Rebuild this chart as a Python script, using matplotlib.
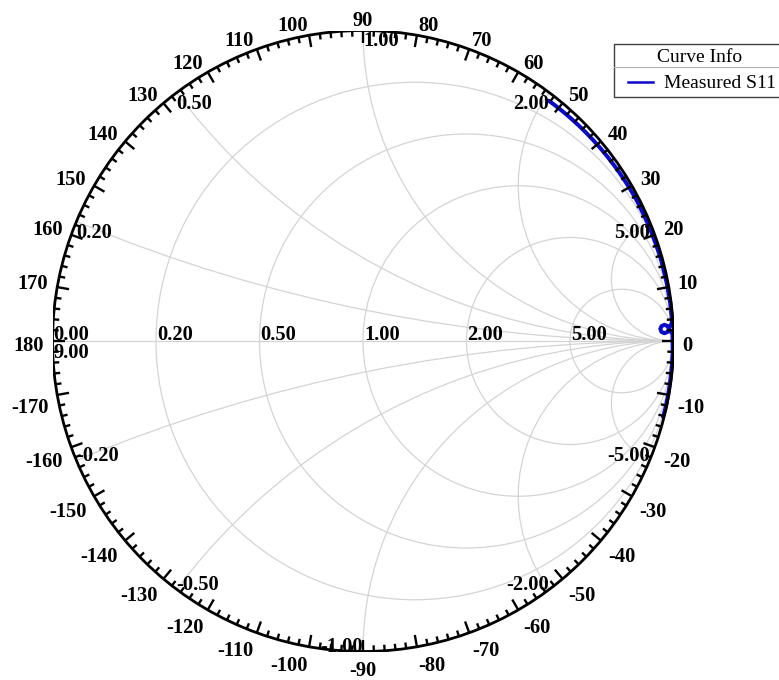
import numpy as np
import matplotlib
matplotlib.use("Agg")
import matplotlib.pyplot as plt
from matplotlib.patches import Circle, Rectangle
from matplotlib.collections import LineCollection

# ---------------- data ----------------
resistances = [0.2, 0.5, 1.0, 2.0, 5.0]
resistance_labels = ["0.20", "0.50", "1.00", "2.00", "5.00"]
reactances = [0.2, 0.5, 1.0, 2.0, 5.0]
reactance_labels_pos = ["0.20", "0.50", "1.00", "2.00", "5.00"]
reactance_labels_neg = ["-0.20", "-0.50", "-1.00", "-2.00", "-5.00"]
angle_labels = list(range(-170, 190, 10))

# Measured S11 (reflection coefficient magnitude, phase in degrees)
s11_phase = [52.3, 51, 49, 47, 45, 43, 41, 39, 37, 35, 33, 31, 29, 27, 25,
             23, 21, 19, 17, 15, 13, 11, 9, 7, 5.5, 4.3, 3.4,
             2.325, 2.803, 3.071, 2.858, 2.309, 1.728, 1.481, 1.694, 2.151,
             1.3, 0, -2, -4, -6, -8, -10, -12, -14.2]
s11_mag = [0.978, 0.979, 0.980, 0.981, 0.982, 0.983, 0.984, 0.985, 0.986,
           0.987, 0.988, 0.989, 0.990, 0.991, 0.991, 0.992, 0.993, 0.993,
           0.994, 0.995, 0.995, 0.996, 0.996, 0.997, 0.997, 0.997, 0.997,
           0.9858, 0.9817, 0.9724, 0.9627, 0.9583, 0.9619, 0.9713, 0.9809, 0.9857,
           0.997, 0.997, 0.998, 0.998, 0.998, 0.998, 0.998, 0.998, 0.997]

# ---------------- layout ----------------
W, H, DPI = 779, 680, 100
CX, CY, R = 363, 341, 310.5        # chart centre / radius in pixels
PX = 1.0 / R                        # one pixel in chart units

GRID = "#d4d4d4"
CURVE = "#0a0ac8"
LABEL_FONT = dict(family="Liberation Serif", weight="bold", size=14.8)

fig = plt.figure(figsize=(W / DPI, H / DPI), dpi=DPI)
fig.patch.set_facecolor("white")
ax = fig.add_axes([(CX - R) / W, (H - CY - R) / H, 2 * R / W, 2 * R / H])
ax.set_xlim(-1, 1)
ax.set_ylim(-1, 1)
ax.set_aspect("equal")
ax.axis("off")

outer = Circle((0, 0), 1.0, transform=ax.transData, facecolor="none", edgecolor="none")
ax.add_patch(outer)

# resistance circles
for r in resistances:
    c = Circle((r / (1 + r), 0), 1 / (1 + r), fill=False, edgecolor=GRID, lw=0.9, zorder=1)
    ax.add_patch(c)

# reactance arcs, clipped to the unit circle
for x in reactances:
    for sgn in (1, -1):
        c = Circle((1, sgn / x), 1 / x, fill=False, edgecolor=GRID, lw=0.9, zorder=1)
        ax.add_patch(c)
        c.set_clip_path(outer)

ax.plot([-1, 1], [0, 0], color=GRID, lw=0.9, zorder=1)

# resistance labels along the real axis
for r, lab in zip(resistances, resistance_labels):
    g = (r - 1) / (r + 1)
    ax.text(g + 1 * PX, 1 * PX, lab, ha="left", va="baseline", zorder=5, **LABEL_FONT)
ax.text(-1 + 1 * PX, 1 * PX, "0.00", ha="left", va="baseline", zorder=5, **LABEL_FONT)
ax.text(-1 + 1 * PX, -17 * PX, "9.00", ha="left", va="baseline", zorder=5, **LABEL_FONT)

# reactance labels at the rim
for x, lp, ln in zip(reactances, reactance_labels_pos, reactance_labels_neg):
    ang = np.pi - 2 * np.arctan(x)
    gx, gy = np.cos(ang), np.sin(ang)
    ha = "left" if gx <= 1e-9 else "right"
    ax.text(gx, gy - 1 * PX, lp, ha=ha, va="top", zorder=5, **LABEL_FONT)
    ha_n = "left" if gx < -1e-9 else "right"
    ax.text(gx, -gy - 1 * PX, ln, ha=ha_n, va="baseline", zorder=5, **LABEL_FONT)

# measured curve
ph = np.radians(s11_phase)
mag = np.asarray(s11_mag)
ax.plot(mag * np.cos(ph), mag * np.sin(ph), color=CURVE, lw=2.9,
        solid_joinstyle="round", solid_capstyle="round", zorder=3)

# outer rim and angle ticks
ax.add_patch(Circle((0, 0), 1.0, fill=False, edgecolor="black", lw=2.0, zorder=4))
segs = []
for a in range(0, 360, 2):
    t = np.radians(a)
    L = (12 if a % 10 == 0 else 6) * PX
    segs.append([(np.cos(t), np.sin(t)), ((1 - L) * np.cos(t), (1 - L) * np.sin(t))])
ax.add_collection(LineCollection(segs, colors="black", linewidths=1.7, zorder=4))

# angle labels outside the rim: left-anchored on the right half,
# right-anchored on the left half, centred at top and bottom
for a in angle_labels:
    th = np.radians(a)
    c, s = np.cos(th), np.sin(th)
    if abs(abs(a) - 90) < 1e-9:
        ha = "center"
    elif abs(a) < 90:
        ha = "left"
    else:
        ha = "right"
    px = (R + 9) * c
    # vertical centre of the digits, pushed away from the real axis
    yc = (R + 14) * s - 3.5 + 7 * np.sign(round(s, 6)) * (1 - abs(s))
    ax.text(px * PX, (yc - 6.5) * PX, str(a), ha=ha, va="baseline", zorder=5, **LABEL_FONT)

# legend box
lx = fig.add_axes([0, 0, 1, 1], zorder=10)
lx.set_xlim(0, W)
lx.set_ylim(H, 0)
lx.axis("off")
lx.patch.set_alpha(0)
lx.add_patch(Rectangle((614, 44), 200, 53, facecolor="white", edgecolor="#404040", lw=1.0))
lx.plot([614, W], [67, 67], color="#b0b0b0", lw=0.8)
lx.text(700, 57.5, "Curve Info", ha="center", va="center",
        family="Liberation Serif", size=14)
lx.plot([628, 653], [82, 82], color=CURVE, lw=1.8)
lx.text(664, 83.5, "Measured S11", ha="left", va="center",
        family="Liberation Serif", size=14)

fig.savefig("out.png", dpi=DPI, facecolor="white")
